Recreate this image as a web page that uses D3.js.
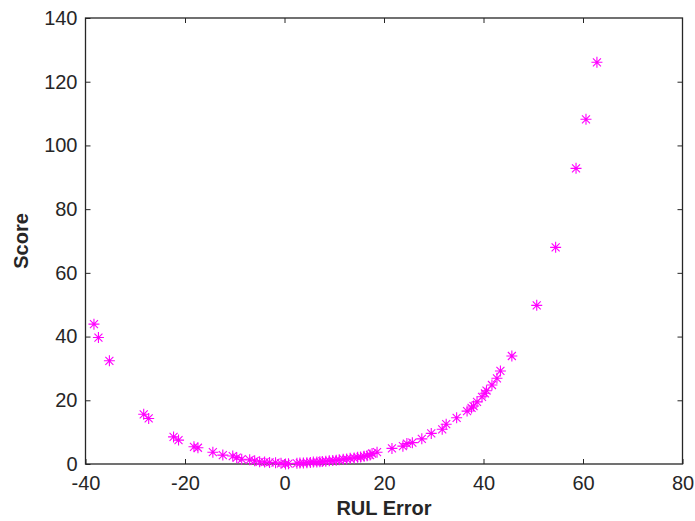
<!DOCTYPE html>
<html>
<head>
<meta charset="utf-8">
<script src="https://cdn.jsdelivr.net/npm/d3@7"></script>
<style>
  body { margin: 0; background: #fff; }
  text { font-family: "Liberation Sans", Arial, sans-serif; fill: #262626; }
</style>
</head>
<body>
<div class="chart"></div>
<script>
var svgWidth = 695;
var svgHeight = 521;

var margin = { top: 18, right: 12.5, bottom: 57, left: 85.5 };
var width = svgWidth - margin.left - margin.right;
var height = svgHeight - margin.top - margin.bottom;

// RUL error (x) and score (y)
var rulError = [
  -38.3, -37.4, -35.2, -28.3, -27.3, -22.3, -21.3, -18.2, -17.4,
  -14.4, -12.4, -10.4, -9.6, -8.6, -7.0, -6.0, -5.0, -4.0, -3.0, -1.8, -0.7,
  0.2, 0.8, 2.5, 3.1, 3.8, 4.5, 5.2, 5.8, 6.5, 7.1, 7.6, 8.3, 9.0, 9.7,
  10.4, 11.0, 11.8, 12.5, 13.2, 14.0, 14.7, 15.3, 16.0, 16.6, 17.2,
  17.6, 18.6, 21.6, 23.8, 24.6, 25.7, 27.6, 29.5, 31.7, 32.5,
  34.6, 36.7, 37.6, 38.0, 38.7, 39.7, 40.3, 40.6, 41.7, 42.7, 43.4, 45.7,
  50.7, 54.5, 58.6, 60.6, 62.8
];
var score = [
  43.9, 39.7, 32.4, 15.6, 14.3, 8.5, 7.5, 5.4, 5.1,
  3.7, 2.8, 2.5, 2.0, 1.5, 1.3, 1.0, 0.7, 0.6, 0.5, 0.4, 0.2,
  0.0, 0.1, 0.2, 0.3, 0.3, 0.4, 0.5, 0.6, 0.6, 0.7, 0.8, 0.9, 1.0, 1.1,
  1.2, 1.3, 1.5, 1.6, 1.8, 1.9, 2.1, 2.2, 2.4, 2.6, 2.8,
  3.3, 3.7, 4.9, 5.6, 6.4, 6.7, 7.9, 9.6, 10.9, 12.5,
  14.5, 16.6, 17.6, 18.2, 19.5, 21.1, 22.2, 23.0, 24.8, 26.9, 29.2, 33.9,
  49.8, 68.0, 92.8, 108.2, 126.1
];
var xTicks = [-40, -20, 0, 20, 40, 60, 80];
var yTicks = [0, 20, 40, 60, 80, 100, 120, 140];

var data = rulError.map(function(d, i) { return { err: d, score: score[i] }; });

var svg = d3.select(".chart")
  .append("svg")
  .attr("width", svgWidth)
  .attr("height", svgHeight);

var chartGroup = svg.append("g")
  .attr("transform", `translate(${margin.left}, ${margin.top})`);

var xLinearScale = d3.scaleLinear().domain([-40, 80]).range([0, width]);
var yLinearScale = d3.scaleLinear().domain([0, 140]).range([height, 0]);

// plain hyphen for negatives, like the original
var fmt = d => String(d);

// MATLAB-like axes: ticks inward on all four sides
function styleAxis(g) {
  g.select(".domain").remove();
  g.selectAll("line").attr("stroke", "#262626").attr("stroke-width", 1);
  g.selectAll("text").style("font-size", "20px").attr("fill", "#262626");
}

chartGroup.append("g")
  .attr("transform", `translate(0, ${height})`)
  .call(d3.axisBottom(xLinearScale).tickValues(xTicks).tickFormat(fmt).tickSizeInner(-5).tickSizeOuter(0).tickPadding(12))
  .call(styleAxis);

chartGroup.append("g")
  .call(d3.axisTop(xLinearScale).tickValues(xTicks.slice(1, -1)).tickSizeInner(-5).tickSizeOuter(0).tickFormat(""))
  .call(styleAxis);

chartGroup.append("g")
  .call(d3.axisLeft(yLinearScale).tickValues(yTicks).tickFormat(fmt).tickSizeInner(-5).tickSizeOuter(0).tickPadding(8))
  .call(styleAxis);

chartGroup.append("g")
  .attr("transform", `translate(${width}, 0)`)
  .call(d3.axisRight(yLinearScale).tickValues(yTicks.slice(1, -1)).tickSizeInner(-5).tickSizeOuter(0).tickFormat(""))
  .call(styleAxis);

// box
chartGroup.append("rect")
  .attr("x", 0).attr("y", 0)
  .attr("width", width).attr("height", height)
  .attr("fill", "none")
  .attr("stroke", "#262626")
  .attr("stroke-width", 1.3);

// asterisk markers
var s = 5.5, d2 = 4;
var starPath = `M${-s},0H${s}M0,${-s}V${s}M${-d2},${-d2}L${d2},${d2}M${-d2},${d2}L${d2},${-d2}`;

chartGroup.selectAll(".pt")
  .data(data)
  .enter()
  .append("path")
  .attr("class", "pt")
  .attr("transform", d => `translate(${xLinearScale(d.err)}, ${yLinearScale(d.score)})`)
  .attr("d", starPath)
  .attr("fill", "none")
  .attr("stroke", "#ff00ff")
  .attr("stroke-width", 1.1);

// axis labels
svg.append("text")
  .attr("x", margin.left + width / 2)
  .attr("y", 515)
  .attr("text-anchor", "middle")
  .style("font-size", "20px")
  .style("font-weight", "bold")
  .text("RUL Error");

svg.append("text")
  .attr("transform", `translate(28, ${margin.top + height / 2}) rotate(-90)`)
  .attr("text-anchor", "middle")
  .style("font-size", "20px")
  .style("font-weight", "bold")
  .text("Score");
</script>
</body>
</html>
